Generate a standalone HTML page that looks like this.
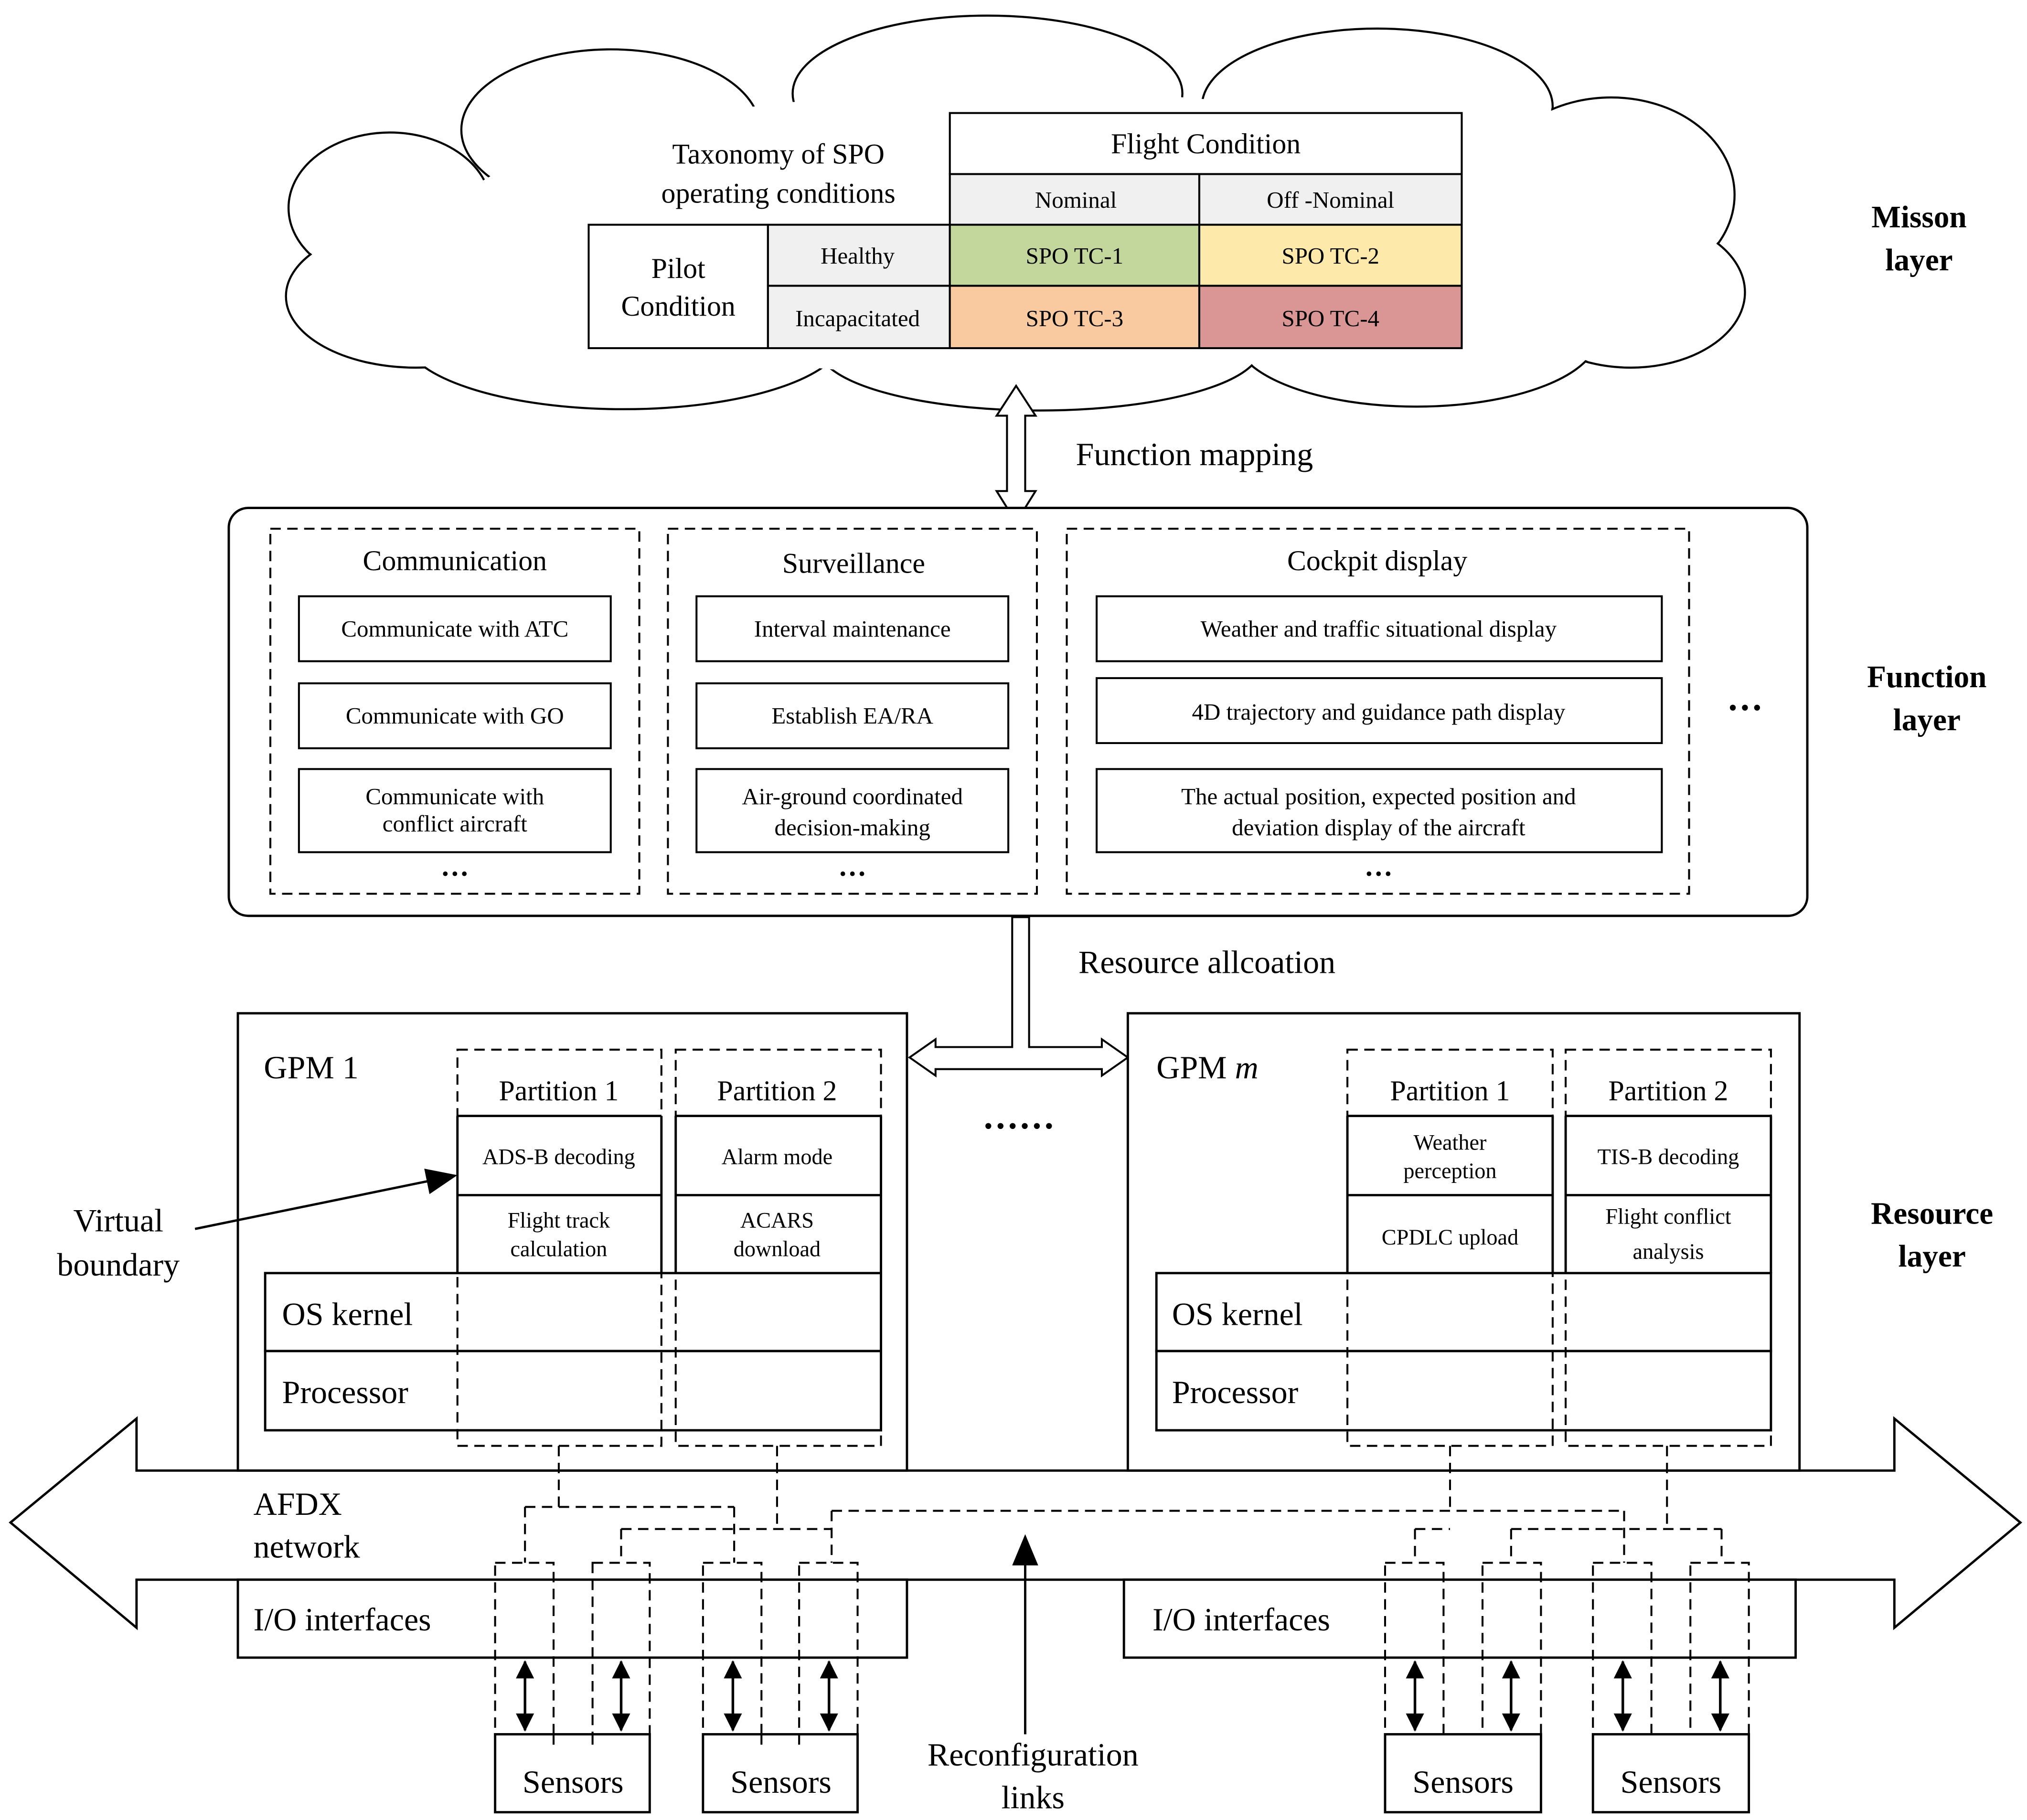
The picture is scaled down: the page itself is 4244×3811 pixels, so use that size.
<!DOCTYPE html>
<html><head><meta charset="utf-8"><style>
html,body{margin:0;padding:0;background:#fff;}
svg{display:block;}
text{font-family:"Liberation Serif",serif;fill:#000;}
</style></head><body>
<svg width="4244" height="3811" viewBox="0 0 1560 1401" xmlns="http://www.w3.org/2000/svg">
<rect width="1560" height="1401" fill="#fff"/>
<!-- Cloud -->
<g stroke="#000" stroke-width="1.6" fill="#fff">
<ellipse cx="300" cy="160" rx="78" ry="58"/>
<ellipse cx="470" cy="100" rx="115" ry="62"/>
<ellipse cx="760" cy="72" rx="150" ry="60"/>
<ellipse cx="1060" cy="82" rx="135" ry="60"/>
<ellipse cx="1240" cy="150" rx="95" ry="75"/>
<ellipse cx="1255" cy="225" rx="88" ry="58"/>
<ellipse cx="1090" cy="258" rx="140" ry="55"/>
<ellipse cx="800" cy="268" rx="170" ry="48"/>
<ellipse cx="480" cy="258" rx="170" ry="57"/>
<ellipse cx="320" cy="228" rx="100" ry="55"/>
</g>
<g fill="#fff">
<ellipse cx="300" cy="160" rx="77" ry="57"/>
<ellipse cx="470" cy="100" rx="114" ry="61"/>
<ellipse cx="760" cy="72" rx="149" ry="59"/>
<ellipse cx="1060" cy="82" rx="134" ry="59"/>
<ellipse cx="1240" cy="150" rx="94" ry="74"/>
<ellipse cx="1255" cy="225" rx="87" ry="57"/>
<ellipse cx="1090" cy="258" rx="139" ry="54"/>
<ellipse cx="800" cy="268" rx="169" ry="47"/>
<ellipse cx="480" cy="258" rx="169" ry="56"/>
<ellipse cx="320" cy="228" rx="99" ry="54"/>
<ellipse cx="780" cy="180" rx="440" ry="110"/>
</g>
<!-- Table -->
<g stroke="#000" stroke-width="1.5">
<rect x="731" y="87" width="394" height="47" fill="#fff"/>
<rect x="731" y="134" width="192" height="39" fill="#f0f0f0"/>
<rect x="923" y="134" width="202" height="39" fill="#f0f0f0"/>
<rect x="453" y="173" width="138" height="95" fill="#fff"/>
<rect x="591" y="173" width="140" height="47" fill="#f0f0f0"/>
<rect x="591" y="220" width="140" height="48" fill="#f0f0f0"/>
<rect x="731" y="173" width="192" height="47" fill="#c3d69b"/>
<rect x="923" y="173" width="202" height="47" fill="#fde9a9"/>
<rect x="731" y="220" width="192" height="48" fill="#f9c9a0"/>
<rect x="923" y="220" width="202" height="48" fill="#d99694"/>
</g>
<g text-anchor="middle" font-size="18">
<text x="928" y="118" font-size="22">Flight Condition</text>
<text x="828" y="160">Nominal</text>
<text x="1024" y="160">Off -Nominal</text>
<text x="660" y="203">Healthy</text>
<text x="660" y="251">Incapacitated</text>
<text x="827" y="203">SPO TC-1</text>
<text x="1024" y="203">SPO TC-2</text>
<text x="827" y="251">SPO TC-3</text>
<text x="1024" y="251">SPO TC-4</text>
<text x="522" y="214" font-size="22">Pilot</text>
<text x="522" y="243" font-size="22">Condition</text>
<text x="599" y="126" font-size="22">Taxonomy of SPO</text>
<text x="599" y="156" font-size="22">operating conditions</text>
</g>
<!-- Function mapping arrow -->
<polygon points="782,297 797,320 789,320 789,378 797,378 782,402 767,378 775,378 775,320 767,320" fill="#fff" stroke="#000" stroke-width="1.5"/>
<text x="828" y="358" font-size="25">Function mapping</text>
<!-- Function layer -->
<rect x="176" y="391" width="1215" height="314" rx="15" fill="#fff" stroke="#000" stroke-width="1.8"/>
<g fill="none" stroke="#000" stroke-width="1.5" stroke-dasharray="8,5">
<rect x="208" y="407" width="284" height="281"/>
<rect x="514" y="407" width="284" height="281"/>
<rect x="821" y="407" width="479" height="281"/>
</g>
<g fill="#fff" stroke="#000" stroke-width="1.5">
<rect x="230" y="459" width="240" height="50"/>
<rect x="230" y="526" width="240" height="50"/>
<rect x="230" y="592" width="240" height="64"/>
<rect x="536" y="459" width="240" height="50"/>
<rect x="536" y="526" width="240" height="50"/>
<rect x="536" y="592" width="240" height="64"/>
<rect x="844" y="459" width="435" height="50"/>
<rect x="844" y="522" width="435" height="50"/>
<rect x="844" y="592" width="435" height="64"/>
</g>
<g text-anchor="middle" font-size="18">
<text x="350" y="439" font-size="22">Communication</text>
<text x="657" y="441" font-size="22">Surveillance</text>
<text x="1060" y="439" font-size="22">Cockpit display</text>
<text x="350" y="490">Communicate with ATC</text>
<text x="350" y="557">Communicate with GO</text>
<text x="350" y="619">Communicate with</text>
<text x="350" y="640">conflict aircraft</text>
<text x="656" y="490">Interval maintenance</text>
<text x="656" y="557">Establish EA/RA</text>
<text x="656" y="619">Air-ground coordinated</text>
<text x="656" y="643">decision-making</text>
<text x="1061" y="490">Weather and traffic situational display</text>
<text x="1061" y="554">4D trajectory and guidance path display</text>
<text x="1061" y="619">The actual position, expected position and</text>
<text x="1061" y="643">deviation display of the aircraft</text>
<text x="350" y="680" font-size="22" font-weight="bold">···</text>
<text x="656" y="680" font-size="22" font-weight="bold">···</text>
<text x="1061" y="680" font-size="22" font-weight="bold">···</text>
<text x="1343" y="554" font-size="28" font-weight="bold">···</text>
</g>
<!-- Resource allocation arrow -->
<polygon points="779,706 779,806 720,806 720,800 700,814 720,828 720,823 848,823 848,828 868,814 848,800 848,806 792,806 792,706" fill="#fff" stroke="#000" stroke-width="1.5"/>
<text x="830" y="749" font-size="25">Resource allcoation</text>
<!-- AFDX arrow -->
<polygon points="8,1172 105,1092 105,1132 1458,1132 1458,1092 1555,1172 1458,1253 1458,1216 105,1216 105,1253" fill="#fff" stroke="#000" stroke-width="1.8"/>
<!-- GPM boxes -->
<rect x="183" y="780" width="515" height="352" fill="#fff" stroke="#000" stroke-width="1.8"/>
<rect x="868" y="780" width="517" height="352" fill="#fff" stroke="#000" stroke-width="1.8"/>
<rect x="183" y="1216" width="515" height="60" fill="#fff" stroke="#000" stroke-width="1.8"/>
<rect x="865" y="1216" width="517" height="60" fill="#fff" stroke="#000" stroke-width="1.8"/>
<g fill="none" stroke="#000" stroke-width="1.8">
<rect x="204" y="980" width="474" height="60"/>
<rect x="204" y="1040" width="474" height="61"/>
<rect x="890" y="980" width="473" height="60"/>
<rect x="890" y="1040" width="473" height="61"/>
<line x1="352" y1="859" x2="509" y2="859"/><line x1="520" y1="859" x2="678" y2="859"/>
<line x1="352" y1="920" x2="509" y2="920"/><line x1="520" y1="920" x2="678" y2="920"/>
<line x1="1037" y1="859" x2="1195" y2="859"/><line x1="1205" y1="859" x2="1363" y2="859"/>
<line x1="1037" y1="920" x2="1195" y2="920"/><line x1="1205" y1="920" x2="1363" y2="920"/>
<line x1="352" y1="859" x2="352" y2="980"/><line x1="509" y1="859" x2="509" y2="980"/>
<line x1="520" y1="859" x2="520" y2="980"/><line x1="678" y1="859" x2="678" y2="980"/>
<line x1="1037" y1="859" x2="1037" y2="980"/><line x1="1195" y1="859" x2="1195" y2="980"/>
<line x1="1205" y1="859" x2="1205" y2="980"/><line x1="1363" y1="859" x2="1363" y2="980"/>
</g>
<g fill="none" stroke="#000" stroke-width="1.5" stroke-dasharray="8,5">
<rect x="352" y="808" width="157" height="305"/>
<rect x="520" y="808" width="158" height="305"/>
<rect x="1037" y="808" width="158" height="305"/>
<rect x="1205" y="808" width="158" height="305"/>
<path d="M430,1113 V1160 M404,1160 H565 M404,1160 V1203 M565,1160 V1203"/>
<path d="M598,1113 V1177 M478,1177 H640 M478,1177 V1203 M640,1163 V1203"/>
<path d="M1116,1113 V1163 M640,1163 H1250 M1089,1177 H1116 M1089,1177 V1203 M1250,1163 V1203"/>
<path d="M1283,1113 V1177 M1163,1177 H1325 M1163,1177 V1203 M1325,1177 V1203"/>
<rect x="381" y="1203" width="45" height="142"/>
<rect x="456" y="1203" width="44" height="142"/>
<rect x="541" y="1203" width="45" height="142"/>
<rect x="615" y="1203" width="45" height="142"/>
<rect x="1066" y="1203" width="45" height="142"/>
<rect x="1141" y="1203" width="45" height="142"/>
<rect x="1226" y="1203" width="45" height="142"/>
<rect x="1301" y="1203" width="45" height="142"/>
</g>
<!-- Sensors -->
<g fill="#fff" stroke="#000" stroke-width="1.8">
<rect x="381" y="1335" width="119" height="60"/>
<rect x="541" y="1335" width="119" height="60"/>
<rect x="1066" y="1335" width="120" height="60"/>
<rect x="1226" y="1335" width="120" height="60"/>
</g>
<g fill="none" stroke="#000" stroke-width="1.5" stroke-dasharray="8,5">
<path d="M381,1335 V1345 M426,1335 V1345 M456,1335 V1345 M500,1335 V1345 M541,1335 V1345 M586,1335 V1345 M615,1335 V1345 M660,1335 V1345"/>
</g>
<defs>
<marker id="ah2" markerWidth="14" markerHeight="14" refX="13" refY="7" orient="auto-start-reverse" markerUnits="userSpaceOnUse"><path d="M0,0 L14,7 L0,14 z" fill="#000"/></marker>
<marker id="ah3" markerWidth="24" markerHeight="20" refX="22" refY="10" orient="auto" markerUnits="userSpaceOnUse"><path d="M0,0 L24,10 L0,20 z" fill="#000"/></marker>
</defs>
<g stroke="#000" stroke-width="2" marker-start="url(#ah2)" marker-end="url(#ah2)">
<line x1="404" y1="1279" x2="404" y2="1332"/>
<line x1="478" y1="1279" x2="478" y2="1332"/>
<line x1="564" y1="1279" x2="564" y2="1332"/>
<line x1="638" y1="1279" x2="638" y2="1332"/>
<line x1="1089" y1="1279" x2="1089" y2="1332"/>
<line x1="1163" y1="1279" x2="1163" y2="1332"/>
<line x1="1249" y1="1279" x2="1249" y2="1332"/>
<line x1="1324" y1="1279" x2="1324" y2="1332"/>
</g>
<line x1="789" y1="1335" x2="789" y2="1183" stroke="#000" stroke-width="1.8" marker-end="url(#ah3)"/>
<line x1="150" y1="946" x2="350" y2="905" stroke="#000" stroke-width="1.8" marker-end="url(#ah3)"/>
<g font-size="25">
<text x="203" y="830">GPM 1</text>
<text x="890" y="830">GPM <tspan font-style="italic">m</tspan></text>
<text x="217" y="1020">OS kernel</text>
<text x="217" y="1080">Processor</text>
<text x="902" y="1020">OS kernel</text>
<text x="902" y="1080">Processor</text>
<text x="195" y="1166">AFDX</text>
<text x="195" y="1199">network</text>
<text x="195" y="1255">I/O interfaces</text>
<text x="887" y="1255">I/O interfaces</text>
</g>
<g text-anchor="middle">
<text x="91" y="948" font-size="25">Virtual</text>
<text x="91" y="982" font-size="25">boundary</text>
<text x="430" y="847" font-size="22">Partition 1</text>
<text x="598" y="847" font-size="22">Partition 2</text>
<text x="1116" y="847" font-size="22">Partition 1</text>
<text x="1284" y="847" font-size="22">Partition 2</text>
<text x="430" y="896" font-size="17">ADS-B decoding</text>
<text x="598" y="896" font-size="17">Alarm mode</text>
<text x="430" y="945" font-size="17">Flight track</text>
<text x="430" y="967" font-size="17">calculation</text>
<text x="598" y="945" font-size="17">ACARS</text>
<text x="598" y="967" font-size="17">download</text>
<text x="1116" y="885" font-size="17">Weather</text>
<text x="1116" y="907" font-size="17">perception</text>
<text x="1284" y="896" font-size="17">TIS-B decoding</text>
<text x="1116" y="958" font-size="17">CPDLC upload</text>
<text x="1284" y="942" font-size="17">Flight conflict</text>
<text x="1284" y="969" font-size="17">analysis</text>
<text x="784" y="876" font-size="28" font-weight="bold">······</text>
<text x="441" y="1380" font-size="25">Sensors</text>
<text x="601" y="1380" font-size="25">Sensors</text>
<text x="1126" y="1380" font-size="25">Sensors</text>
<text x="1286" y="1380" font-size="25">Sensors</text>
<text x="795" y="1359" font-size="25">Reconfiguration</text>
<text x="795" y="1392" font-size="25">links</text>
<g font-size="24" font-weight="bold">
<text x="1477" y="175">Misson</text>
<text x="1477" y="208">layer</text>
<text x="1483" y="529">Function</text>
<text x="1483" y="562">layer</text>
<text x="1487" y="942">Resource</text>
<text x="1487" y="975">layer</text>
</g>
</g>
</svg>
</body></html>
